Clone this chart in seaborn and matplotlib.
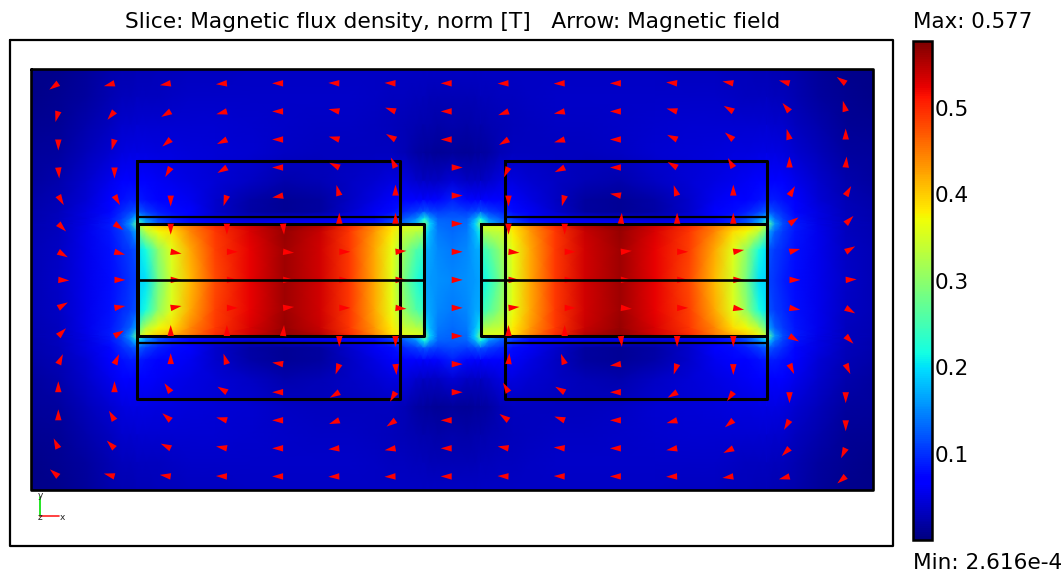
import numpy as np
import matplotlib
matplotlib.use("Agg")
import matplotlib.pyplot as plt
import seaborn as sns

W, H = 1064, 577
VMIN, VMAX = 2.616e-4, 0.577

# mesh nodes of the upper left quarter, figure pixels (field is mirror symmetric)
x_nodes_q = [31, 59, 87, 110, 122, 130, 137, 138.5, 146, 158, 172, 190, 215, 250, 285,
             320, 350, 375, 392, 405, 416, 423, 424.5, 430, 438, 452.5]
y_nodes_q = [69, 97, 125, 153, 181, 200, 212, 219, 223.5, 224.5, 232, 250, 280]

# flux density, one row per y node
flux_q = [
    [.005, .008, .016, .023, .026, .027, .028, .028, .029, .030, .031, .032, .034, .035, .036, .036, .036, .036, .036, .036, .035, .035, .035, .035, .035, .035],
    [.007, .010, .018, .027, .030, .031, .032, .032, .033, .034, .035, .037, .038, .038, .038, .038, .038, .036, .034, .033, .031, .030, .030, .029, .028, .029],
    [.010, .013, .024, .034, .039, .040, .041, .041, .041, .041, .041, .041, .041, .039, .037, .036, .035, .033, .031, .029, .026, .024, .024, .023, .021, .024],
    [.014, .018, .030, .043, .049, .050, .050, .050, .050, .049, .048, .047, .045, .041, .036, .034, .034, .034, .033, .029, .020, .017, .016, .015, .012, .015],
    [.018, .024, .040, .056, .064, .066, .066, .066, .064, .060, .056, .052, .044, .035, .025, .028, .035, .042, .048, .048, .040, .035, .035, .035, .035, .045],
    [.022, .029, .045, .068, .080, .086, .088, .088, .080, .074, .066, .058, .040, .022, .012, .018, .035, .050, .062, .072, .072, .072, .073, .073, .075, .090],
    [.024, .031, .050, .076, .096, .110, .125, .125, .108, .090, .078, .064, .040, .020, .012, .018, .040, .060, .078, .096, .108, .120, .125, .115, .108, .115],
    [.025, .032, .052, .083, .108, .135, .190, .190, .150, .112, .090, .070, .050, .040, .045, .050, .060, .075, .100, .125, .150, .205, .220, .165, .128, .125],
    [.026, .033, .053, .085, .115, .155, .260, .260, .170, .120, .095, .080, .065, .060, .065, .070, .075, .090, .115, .140, .180, .260, .280, .190, .135, .130],
    [.026, .033, .054, .086, .115, .155, .260, .330, .370, .400, .420, .450, .500, .535, .570, .550, .500, .440, .390, .360, .360, .360, .280, .190, .135, .130],
    [.027, .034, .055, .085, .105, .125, .170, .270, .330, .370, .390, .440, .490, .530, .565, .540, .490, .430, .380, .340, .330, .320, .210, .175, .140, .132],
    [.028, .036, .055, .080, .095, .105, .120, .200, .220, .300, .360, .420, .485, .525, .560, .535, .490, .420, .365, .300, .260, .240, .170, .165, .150, .140],
    [.028, .037, .055, .078, .090, .100, .110, .190, .200, .280, .350, .410, .480, .525, .560, .535, .490, .420, .360, .280, .230, .210, .165, .160, .155, .150],
]

# arrow directions in degrees, left half of the arrow grid, one row per arrow row
arrow_x = [58.3, 114.5, 170.7, 226.9, 283.1, 339.3, 395.5, 451.7]
arrow_y = [83.3, 111.4, 139.5, 167.5, 195.6, 223.7, 251.8, 279.9,
           307.9, 336.0, 364.1, 392.2, 420.3, 448.3, 476.4]
arrow_deg = [
    [-145, 195, 190, 185, 180, 178, 178, 180],
    [-105, -130, 210, 195, 180, 168, 160, 180],
    [-90, -105, -140, 205, 180, 165, 150, 180],
    [-85, -90, -120, 210, 180, 155, 115, 0],
    [-60, -60, -90, -108, 190, 105, 90, 0],
    [-45, -35, -90, -90, -85, 90, 90, 0],
    [-30, -15, -10, 0, -5, 0, 5, 0],
    [-3, 0, 0, 0, 0, 0, 0, 0],
    [30, 10, 10, 0, 5, 0, -5, 0],
    [45, 30, 90, 90, 85, -90, -90, 0],
    [65, 65, 90, 108, 172, -110, -85, 0],
    [90, 90, 125, 150, 180, 210, -120, 0],
    [90, 120, 140, 165, 180, 200, 215, 180],
    [115, 135, 155, 170, 180, 185, 190, 180],
    [140, 165, 172, 178, 180, 182, 182, 180],
]

cbar_ticks = [0.1, 0.2, 0.3, 0.4, 0.5]
title = "Slice: Magnetic flux density, norm [T]   Arrow: Magnetic field"
max_label = "Max: 0.577"
min_label = "Min: 2.616e-4"

sns.set_theme(style="white")
plt.rcParams["font.family"] = ["DejaVu Sans"]

# mirror the quarter into the whole domain
flux = np.array(flux_q)
flux = np.vstack([flux, flux[-2::-1]])
flux = np.hstack([flux, flux[:, -2::-1]])
x_nodes = np.array(x_nodes_q + [905 - x for x in x_nodes_q[-2::-1]])
y_nodes = np.array(y_nodes_q + [560 - y for y in y_nodes_q[-2::-1]])


def px_box(x0, y0, x1, y1):
    return [x0 / W, 1 - y1 / H, (x1 - x0) / W, (y1 - y0) / H]


fig = plt.figure(figsize=(W / 100, H / 100), dpi=100)
ax_field = fig.add_axes(px_box(31, 69, 873, 490))
ax_cbar = fig.add_axes(px_box(913, 41, 932, 540))

sns.heatmap(flux, ax=ax_field, cmap="jet", vmin=VMIN, vmax=VMAX, shading="gouraud",
            xticklabels=False, yticklabels=False, cbar_ax=ax_cbar,
            cbar_kws={"ticks": cbar_ticks})

# node index -> pixel scale, so the uneven mesh lands where it should
ix, iy = np.arange(len(x_nodes)), np.arange(len(y_nodes))
ax_field.set_xscale("function", functions=(lambda i: np.interp(i, ix, x_nodes),
                                           lambda p: np.interp(p, x_nodes, ix)))
ax_field.set_yscale("function", functions=(lambda i: np.interp(i, iy, y_nodes),
                                           lambda p: np.interp(p, y_nodes, iy)))
ax_field.set_xlim(0, np.interp(873, x_nodes, ix))
ax_field.set_ylim(np.interp(490, y_nodes, iy), 0)
ax_field.set_xticks([])
ax_field.set_yticks([])
ax_field.minorticks_off()

cbar = ax_field.collections[0].colorbar
cbar.outline.set_linewidth(1.8)
cbar.outline.set_edgecolor("black")
cbar.ax.tick_params(direction="in", length=3, width=1.3, left=True, right=True,
                    color="black", labelsize=15.6, pad=2, labelcolor="black")

# overlay in figure pixels for geometry, arrows and text
ax = fig.add_axes([0, 0, 1, 1], facecolor="none")
ax.set_xlim(0, W)
ax.set_ylim(H, 0)
ax.axis("off")


def rect(x0, y0, x1, y1, lw=2.2):
    ax.plot([x0, x1, x1, x0, x0], [y0, y0, y1, y1, y0], color="black", lw=lw,
            solid_joinstyle="round", zorder=2)


def hline(x0, x1, y, lw=2.0, z=2):
    ax.plot([x0, x1], [y, y], color="black", lw=lw, zorder=z)


rect(10, 40, 893, 546, lw=1.6)
rect(31, 69, 873, 490, lw=1.9)
for cx0, cx1, mx0, mx1 in [(137, 400, 138, 424), (505, 767, 481, 767)]:
    rect(cx0, 161, cx1, 399, lw=2.2)
    rect(mx0, 224, mx1, 336, lw=2.2)
    hline(cx0, cx1, 217, lw=1.6)
    hline(cx0, cx1, 343, lw=1.6)
    hline(mx0, mx1, 280, lw=1.9, z=4)

deg = np.array(arrow_deg, dtype=float)
deg = np.hstack([deg, -deg[:, 6::-1]])
ax_all_x = arrow_x + [904 - x for x in arrow_x[6::-1]]
ax_x, ax_y = np.meshgrid(ax_all_x, arrow_y)
ax.quiver(ax_x, ax_y, np.full(deg.shape, 11.0), np.zeros(deg.shape), angles=deg,
          units="dots", width=1, scale=1, scale_units="dots", pivot="tail", color="#ff0000",
          headwidth=6.5, headlength=11, headaxislength=11, minshaft=1, minlength=0,
          linewidth=0, zorder=3)

# coordinate triad
ax.plot([40, 40], [516, 497], color="#00e000", lw=1.2, zorder=2)
ax.plot([40, 59], [516, 516], color="#ff2020", lw=1.2, zorder=2)
ax.text(40, 495, "y", fontsize=6.5, ha="center", va="center", color="#222222")
ax.text(40, 517, "z", fontsize=6.5, ha="center", va="center", color="#222222")
ax.text(62, 517, "x", fontsize=6.5, ha="center", va="center", color="#222222")

ax.text(452.5, 22, title, fontsize=15.6, ha="center", va="center", color="black")
ax.text(913, 22, max_label, fontsize=15.4, ha="left", va="center", color="black")
ax.text(913, 563, min_label, fontsize=15.6, ha="left", va="center", color="black")

fig.savefig("out.png", dpi=100, facecolor="white")
